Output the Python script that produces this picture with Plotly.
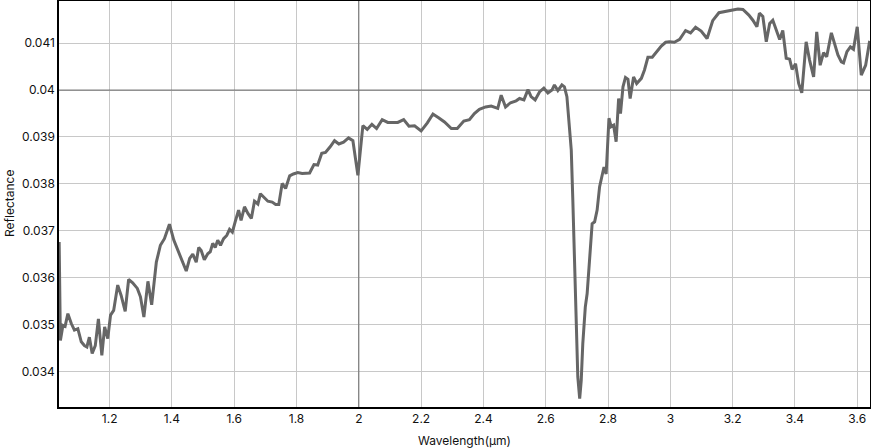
import plotly.graph_objects as go

wavelength = [
    1.038, 1.042, 1.050, 1.057, 1.066, 1.077, 1.087, 1.098, 1.109, 1.119, 1.127, 1.135, 1.144, 1.154,
    1.164, 1.175, 1.184, 1.194, 1.203, 1.213, 1.226, 1.237, 1.250, 1.261, 1.274, 1.289, 1.299, 1.310,
    1.323, 1.335, 1.350, 1.363, 1.376, 1.392, 1.406, 1.421, 1.435, 1.446, 1.457, 1.467, 1.478, 1.486,
    1.494, 1.504, 1.515, 1.523, 1.531, 1.539, 1.547, 1.556, 1.566, 1.576, 1.585, 1.594, 1.603, 1.614,
    1.622, 1.633, 1.644, 1.655, 1.665, 1.676, 1.684, 1.697, 1.708, 1.722, 1.733, 1.743, 1.754, 1.765,
    1.778, 1.790, 1.804, 1.818, 1.829, 1.842, 1.856, 1.868, 1.881, 1.893, 1.908, 1.922, 1.936, 1.951,
    1.967, 1.981, 1.997, 2.013, 2.027, 2.042, 2.057, 2.075, 2.093, 2.125, 2.144, 2.161, 2.179, 2.200,
    2.220, 2.238, 2.256, 2.275, 2.297, 2.316, 2.337, 2.355, 2.371, 2.387, 2.407, 2.425, 2.446, 2.457,
    2.471, 2.487, 2.505, 2.516, 2.530, 2.543, 2.553, 2.566, 2.580, 2.594, 2.607, 2.620, 2.628, 2.639,
    2.652, 2.660, 2.668, 2.674, 2.682, 2.687, 2.692, 2.698, 2.703, 2.709, 2.714, 2.719, 2.727, 2.733,
    2.741, 2.749, 2.757, 2.765, 2.773, 2.781, 2.787, 2.794, 2.803, 2.810, 2.818, 2.826, 2.834, 2.840,
    2.848, 2.856, 2.864, 2.871, 2.882, 2.892, 2.907, 2.917, 2.928, 2.942, 2.955, 2.971, 2.985, 2.997,
    3.013, 3.030, 3.049, 3.065, 3.081, 3.099, 3.118, 3.136, 3.156, 3.174, 3.196, 3.217, 3.233, 3.252,
    3.265, 3.278, 3.286, 3.297, 3.308, 3.319, 3.329, 3.340, 3.351, 3.361, 3.372, 3.383, 3.391, 3.402,
    3.412, 3.422, 3.436, 3.447, 3.460, 3.470, 3.481, 3.492, 3.502, 3.517, 3.527, 3.538, 3.549, 3.556,
    3.567, 3.578, 3.588, 3.600, 3.613, 3.627, 3.640,
]

reflectance = [
    0.03676, 0.03466, 0.03498, 0.03496, 0.03523, 0.03502, 0.03488, 0.03491, 0.03463, 0.03455, 0.03452,
    0.03473, 0.03438, 0.03455, 0.03512, 0.03434, 0.03495, 0.03470, 0.03520, 0.03530, 0.03584, 0.03562,
    0.03528, 0.03596, 0.03589, 0.03577, 0.03559, 0.03516, 0.03592, 0.03542, 0.03633, 0.03669, 0.03683,
    0.03714, 0.03680, 0.03655, 0.03633, 0.03614, 0.03641, 0.03650, 0.03633, 0.03664, 0.03658, 0.03638,
    0.03651, 0.03655, 0.03673, 0.03664, 0.03680, 0.03669, 0.03683, 0.03690, 0.03703, 0.03697, 0.03719,
    0.03744, 0.03722, 0.03751, 0.03737, 0.03726, 0.03763, 0.03757, 0.03779, 0.03769, 0.03763, 0.03761,
    0.03756, 0.03756, 0.03801, 0.03790, 0.03817, 0.03821, 0.03824, 0.03822, 0.03823, 0.03823, 0.03841,
    0.03840, 0.03865, 0.03867, 0.03879, 0.03892, 0.03885, 0.03889, 0.03898, 0.03892, 0.03818, 0.03924,
    0.03916, 0.03927, 0.03918, 0.03937, 0.03931, 0.03931, 0.03937, 0.03923, 0.03924, 0.03913, 0.03930,
    0.03949, 0.03941, 0.03932, 0.03918, 0.03918, 0.03934, 0.03937, 0.03950, 0.03959, 0.03964, 0.03966,
    0.03961, 0.03989, 0.03964, 0.03973, 0.03977, 0.03982, 0.03979, 0.04001, 0.03986, 0.03979, 0.03996,
    0.04004, 0.03994, 0.04000, 0.04011, 0.03999, 0.04011, 0.04007, 0.03986, 0.03936, 0.03872, 0.03765,
    0.03637, 0.03495, 0.03388, 0.03342, 0.03381, 0.03459, 0.03537, 0.03566, 0.03637, 0.03715, 0.03719,
    0.03744, 0.03794, 0.03815, 0.03836, 0.03821, 0.03940, 0.03922, 0.03925, 0.03890, 0.03982, 0.03950,
    0.04007, 0.04027, 0.04023, 0.03982, 0.04028, 0.04014, 0.04025, 0.04043, 0.04070, 0.04070, 0.04080,
    0.04094, 0.04102, 0.04103, 0.04102, 0.04108, 0.04127, 0.04122, 0.04134, 0.04126, 0.04110, 0.04148,
    0.04165, 0.04167, 0.04171, 0.04173, 0.04172, 0.04160, 0.04149, 0.04135, 0.04164, 0.04157, 0.04103,
    0.04142, 0.04149, 0.04128, 0.04108, 0.04127, 0.04068, 0.04066, 0.04044, 0.04056, 0.04014, 0.03994,
    0.04103, 0.04064, 0.04028, 0.04124, 0.04053, 0.04080, 0.04071, 0.04122, 0.04100, 0.04075, 0.04060,
    0.04058, 0.04082, 0.04092, 0.04087, 0.04135, 0.04032, 0.04053, 0.04105,
]

x_tick_values = [1.2, 1.4, 1.6, 1.8, 2.0, 2.2, 2.4, 2.6, 2.8, 3.0, 3.2, 3.4, 3.6]
y_tick_values = [0.034, 0.035, 0.036, 0.037, 0.038, 0.039, 0.040, 0.041]
x_range = [1.0375, 3.641]
y_range = [0.03324, 0.0419]
x_major_line = 2.0
y_major_line = 0.040

x_title = "Wavelength(µm)"
y_title = "Reflectance"

FONT = "Inter, 'Liberation Sans', Arial, sans-serif"

fig = go.Figure()
fig.add_trace(go.Scatter(
    x=wavelength, y=reflectance, mode="lines",
    line=dict(color="#666666", width=3),
    showlegend=False, hoverinfo="x+y",
))

fig.add_shape(type="line", xref="x", yref="paper", x0=x_major_line, x1=x_major_line,
              y0=0, y1=1, line=dict(color="#6a6a6a", width=1), layer="above")
fig.add_shape(type="line", xref="paper", yref="y", x0=0, x1=1, y0=y_major_line,
              y1=y_major_line, line=dict(color="#6a6a6a", width=1), layer="above")

fig.add_annotation(text=x_title, xref="paper", yref="paper", x=0.5, y=0,
                   xanchor="center", yanchor="middle", yshift=-33, showarrow=False,
                   font=dict(size=12, color="#111111"))
fig.add_annotation(text=y_title, xref="paper", yref="paper", x=0, y=0.5,
                   xanchor="center", yanchor="middle", xshift=-50, textangle=-90,
                   showarrow=False, font=dict(size=12, color="#111111"))

fig.update_layout(
    width=871, height=448,
    margin=dict(l=59, r=1, t=1, b=41, autoexpand=False),
    paper_bgcolor="white", plot_bgcolor="white",
    font=dict(family=FONT, size=12, color="#111111"),
    xaxis=dict(
        range=x_range, tickvals=x_tick_values,
        ticktext=[f"{v:g}" for v in x_tick_values],
        showgrid=True, gridcolor="#c8c8c8", gridwidth=1,
        showline=True, linecolor="black", linewidth=1.5, mirror=True,
        ticks="", zeroline=False, automargin=False,
        tickfont=dict(size=12),
    ),
    yaxis=dict(
        range=y_range, tickvals=y_tick_values,
        ticktext=[f"{v:g}" for v in y_tick_values],
        showgrid=True, gridcolor="#c8c8c8", gridwidth=1,
        showline=True, linecolor="black", linewidth=1.5, mirror=True,
        ticks="", zeroline=False, automargin=False,
        tickfont=dict(size=12),
    ),
)

fig.write_html(
    "out.html",
    config={"displayModeBar": False},
    post_script="document.body.style.margin='0';document.body.style.overflow='hidden';",
)
